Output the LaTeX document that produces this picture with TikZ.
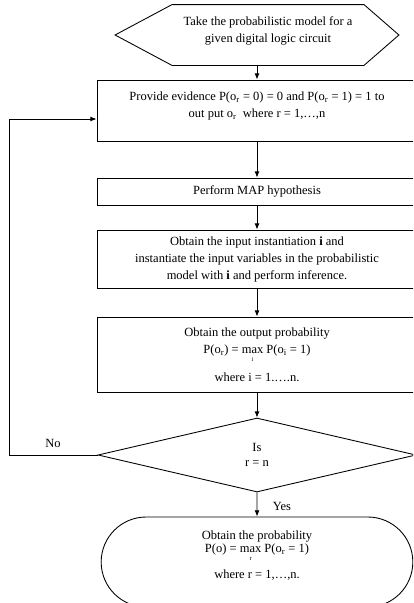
\documentclass[tikz,border=0pt]{standalone}
\usepackage{amsmath}
\usepackage{fontspec}
\setmainfont{Liberation Serif}
\usetikzlibrary{shapes.geometric,shapes.misc,calc,arrows.meta}

\newcommand{\maxover}[1]{\ensuremath{\mathop{\text{max}}\limits_{\text{\tiny #1}}}}

\tikzset{
  flowtext/.style={align=center, font=\fontsize{10}{13.6}\selectfont},
  flowbox/.style={flowtext, draw, rectangle, minimum width=256pt, inner sep=2pt},
  arr/.style={-{Latex[length=5pt,width=4pt]}}
}

\begin{document}
\begin{tikzpicture}[x=0.8pt, y=-0.8pt, line width=0.7pt]
    % Page frame, the right side of the chart is cut off
    \useasboundingbox (0,0) rectangle (413,603);
    \clip (0,0) rectangle (413,603);

    % Start: hexagon
    \node[flowtext, minimum width=152.8pt, minimum height=48pt, inner sep=0pt] (take) at (268,35)
        {Take the probabilistic model for a\\ given digital logic circuit\\[-5.6pt]};
    \draw ($(take.west)+(-57,0)$) -- (take.north west) -- (take.north east)
        -- ($(take.east)+(35,0)$) -- (take.south east) -- (take.south west) -- cycle;

    % Process boxes
    \node[flowbox, minimum height=48.8pt] (evid) at (257,110.5)
        {Provide evidence P(o\textsubscript{r} = 0) = 0 and P(o\textsubscript{r} = 1) = 1 to\\
         out put o\textsubscript{r}\ \ where r = 1,\dots,n\\[-4pt]};
    \node[flowbox, minimum height=21.6pt] (map) at (257,191.5) {Perform MAP hypothesis};
    \node[flowbox, minimum height=46.4pt] (inst) at (257,259)
        {Obtain the input instantiation \textbf{i} and\\
         instantiate the input variables in the probabilistic\\
         model with \textbf{i} and perform inference.};
    \node[flowbox, minimum height=60pt] (outp) at (257,354.5)
        {Obtain the output probability\\
         P(o\textsubscript{r}) = \maxover{i} P(o\textsubscript{i} = 1)\\[7pt]
         where i = 1.\dots.n.};

    % Decision
    \node[flowtext, draw, diamond, minimum width=254.4pt, minimum height=59.2pt, inner sep=0pt] (dia) at (257,455)
        {Is\\[-1.5pt] r = n};

    % End
    \node[flowtext, draw, rounded rectangle, minimum width=256pt, minimum height=72pt] (prob) at (257,562)
        {Obtain the probability\\[-3pt]
         P(o) = \maxover{r} P(o\textsubscript{r} = 1)\\[6pt]
         where r = 1,\dots,n.\\[-2pt]};

    % Connectors
    \draw[arr] (evid.north |- take.south) -- (evid.north);
    \draw[arr] (evid) -- (map);
    \draw[arr] (map) -- (inst);
    \draw[arr] (inst) -- (outp);
    \draw[arr] (outp) -- (dia);
    \draw[arr] (dia) -- (prob);

    % Loop back when r is not n
    \coordinate (back) at (9,455);
    \draw[arr] (dia.west) -- (back) |- ($(evid.west)+(0,8.5)$);

    % Labels
    \node[flowtext] (no) at (53,443) {No};
    \node[flowtext] (yes) at (282,506) {Yes};
\end{tikzpicture}
\end{document}
